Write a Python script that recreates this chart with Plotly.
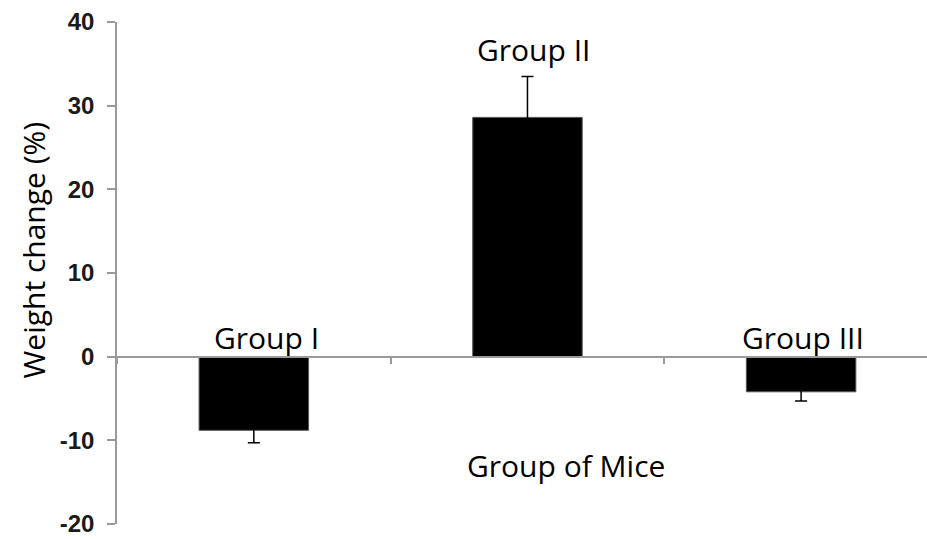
import plotly.graph_objects as go

# Mean weight change per group with standard error
groups = ["Group I", "Group II", "Group III"]
weight_change = [-8.8, 28.6, -4.2]
std_error = [1.5, 4.9, 1.1]
y_ticks = [40, 30, 20, 10, 0, -10, -20]

AXIS_GREY = "#9a9a9a"
LABEL_FONT = "Open Sans"
LABEL_SIZE = 30
# horizontal nudge (px) of each group label relative to its bar centre
LABEL_XSHIFT = {"Group I": 13, "Group II": 6, "Group III": 2}

fig = go.Figure()
fig.add_trace(go.Bar(
    x=groups,
    y=weight_change,
    width=0.4,
    marker=dict(color="black", line=dict(color="#555555", width=1)),
    error_y=dict(type="data", array=std_error, symmetric=True,
                 color="black", thickness=1.5, width=6),
    showlegend=False,
))

# Group labels sit just above the zero line or above the error bar
for g, v, e in zip(groups, weight_change, std_error):
    top = v + e if v > 0 else 0
    fig.add_annotation(
        x=g, y=top, xref="x", yref="y",
        text=g, showarrow=False,
        xanchor="center", yanchor="bottom",
        xshift=LABEL_XSHIFT[g], yshift=4 if v > 0 else -3,
        font=dict(family=LABEL_FONT, size=LABEL_SIZE, color="black"),
    )

fig.add_annotation(
    x=groups[1], y=0, xref="x", yref="y",
    text="Group of Mice", showarrow=False,
    xanchor="center", yanchor="middle",
    xshift=39, yshift=-109,
    font=dict(family=LABEL_FONT, size=LABEL_SIZE, color="black"),
)

fig.add_annotation(
    x=-84 / 810, y=0.545, xref="paper", yref="paper",
    text="Weight change (%)", showarrow=False, textangle=-90,
    xanchor="center", yanchor="middle",
    font=dict(family=LABEL_FONT, size=LABEL_SIZE, color="black"),
)

fig.update_layout(
    width=927, height=539,
    margin=dict(l=117, r=0, t=22, b=15),
    plot_bgcolor="white", paper_bgcolor="white",
    xaxis=dict(
        range=[-0.5, 2.46],
        anchor="free", position=1 / 3,
        showline=True, linecolor=AXIS_GREY, linewidth=1.5,
        ticks="outside", tickson="boundaries", ticklen=7,
        tickcolor=AXIS_GREY, tickwidth=1.5,
        showticklabels=False, showgrid=False, zeroline=False,
    ),
    yaxis=dict(
        range=[-20, 40],
        tickvals=y_ticks,
        ticktext=[str(t) for t in y_ticks],
        showline=True, linecolor=AXIS_GREY, linewidth=1.5,
        ticks="outside", ticklen=8, tickcolor=AXIS_GREY, tickwidth=1.5,
        tickfont=dict(family="Liberation Sans", size=24, color="#1a1a1a",
                      weight="bold"),
        ticklabelstandoff=8,
        showgrid=False, zeroline=False,
    ),
)

fig.write_html("out.html")
